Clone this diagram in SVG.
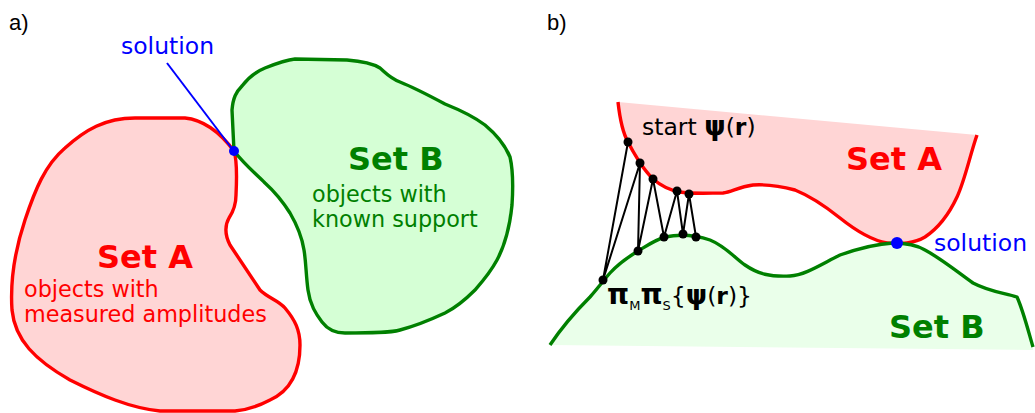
<svg xmlns="http://www.w3.org/2000/svg" width="1035" height="413" viewBox="0 0 1035 413">
  <style>
    text { font-family: "DejaVu Sans", "Liberation Sans", sans-serif; }
    .panel { font-family: "Liberation Sans", Arial, sans-serif; font-size: 22px; fill: #000; }
    .title { font-size: 32px; font-weight: bold; }
    .desc { font-size: 22.3px; }
    .red { fill: #ff0000; }
    .green { fill: #008000; }
    .blue { fill: #0000ff; }
    .edgeA { stroke: #ff0000; stroke-width: 3.4; stroke-linejoin: round; }
    .edgeB { stroke: #008000; stroke-width: 3.4; stroke-linejoin: round; }
    .open { fill: none; }
    .fillA { fill: #ffd5d5; }
    .fillB { fill: #d5ffd5; }
    .fillB2 { fill: #eaffea; }
    .step { stroke: #000; stroke-width: 2; fill: none; }
    .pt { fill: #000; }
    .sym { font-weight: bold; }
  </style>

  <!-- panel labels -->
  <text class="panel" x="9" y="30">a)</text>
  <text class="panel" x="547" y="30">b)</text>

  <!-- ===== panel a: two closed sets touching in one point ===== -->
  <g id="a-setA">
    <path class="fillA edgeA" d="M 234,151 C 237,160 237,175 236,195 C 236,205 233,212 229,218 C 225,225 225,235 230,245 C 240,260 250,275 260,290 C 268,298 278,300 285,308 C 295,320 300,330 300,345 C 300,370 292,390 270,400 C 255,408 245,410 235,411 L 160,411 C 130,408 100,395 70,380 C 35,360 15,340 12,310 C 10,280 15,250 25,220 C 35,190 45,165 65,148 C 85,130 105,118 135,118 L 185,118 C 205,120 222,135 234,151 Z"/>
    <text class="title red" x="97" y="268">Set A</text>
    <text class="desc red" x="24" y="297">objects with</text>
    <text class="desc red" x="24" y="322">measured amplitudes</text>
  </g>

  <g id="a-setB">
    <path class="fillB edgeB" d="M 234,151 L 232,110 C 233,98 236,92 242,86 C 248,78 255,72 265,68 C 275,64 285,60 295,59 L 347,60 C 360,61 372,63 380,68 C 387,74 390,78 400,82 C 415,88 430,96 445,104 C 460,110 473,116 485,125 C 497,135 505,145 510,157 C 513,170 513,190 512,205 C 510,225 505,245 497,260 C 490,273 482,282 475,290 C 465,300 455,308 445,313 C 430,320 415,326 400,330 C 390,333 370,333 345,333 C 335,333 328,330 322,322 C 316,314 310,305 308,290 C 306,275 306,262 304,250 C 302,237 297,225 290,213 C 283,202 275,192 265,183 C 255,173 245,165 234,151 Z"/>
    <text class="title green" x="348" y="170">Set B</text>
    <text class="desc green" x="312" y="202">objects with</text>
    <text class="desc green" x="312" y="227">known support</text>
  </g>

  <g id="a-solution">
    <line x1="167" y1="63" x2="233" y2="150" stroke="#0000ff" stroke-width="2"/>
    <circle cx="234" cy="151" r="5" fill="#0000ff"/>
    <text class="blue" x="121" y="54" font-size="23.5">solution</text>
  </g>

  <!-- ===== panel b: alternating projections between the two sets ===== -->
  <g id="b-setA">
    <path class="fillA" d="M 618,102 L 977,135 C 970,155 965,180 957,197 C 950,212 940,227 925,237 C 915,243 900,245 887,243 C 870,240 855,230 840,218 C 825,206 810,196 795,190 C 780,186 768,184 753,185 C 738,187 732,192 723,193 C 710,193 690,194 680,192 C 668,190 660,185 653,179 C 649,175 645,170 640,163 C 637,158 633,152 628,142 C 624,135 620,120 618,102 Z"/>
    <path class="edgeA open" d="M 618,102 C 620,120 624,135 628,142 C 633,152 637,158 640,163 C 645,170 649,175 653,179 C 660,185 668,190 680,192 C 690,194 710,193 723,193 C 732,192 738,187 753,185 C 768,184 780,186 795,190 C 810,196 825,206 840,218 C 855,230 870,240 887,243 C 900,245 915,243 925,237 C 940,227 950,212 957,197 C 965,180 970,155 977,135"/>
    <text class="title red" x="846" y="170">Set A</text>
  </g>

  <g id="b-setB">
    <path class="fillB2" d="M 550,345 C 560,330 572,315 590,297 C 598,288 603,281 610,273 C 620,262 630,256 638,251 C 648,245 655,240 665,237 C 680,234 695,235 710,240 C 725,246 735,258 745,265 C 758,274 770,277 790,276 C 805,275 820,265 840,255 C 860,248 875,244 893,243 C 905,243 915,244 925,250 C 940,258 955,270 973,283 C 990,292 1005,293 1017,297 C 1023,310 1028,330 1033,347 L 1033,350 Z"/>
    <path class="edgeB open" d="M 550,345 C 560,330 572,315 590,297 C 598,288 603,281 610,273 C 620,262 630,256 638,251 C 648,245 655,240 665,237 C 680,234 695,235 710,240 C 725,246 735,258 745,265 C 758,274 770,277 790,276 C 805,275 820,265 840,255 C 860,248 875,244 893,243 C 905,243 915,244 925,250 C 940,258 955,270 973,283 C 990,292 1005,293 1017,297 C 1023,310 1028,330 1033,347"/>
    <text class="title green" x="889" y="338">Set B</text>
  </g>

  <!-- projection steps -->
  <g id="b-connectors">
    <polyline class="step" points="628,142 603,280 640,163 638,251 653,179 664,237 677,191 683,234 689,194 696,237"/>
  </g>

  <g id="b-iterates">
    <circle class="pt" cx="628" cy="142" r="4.5"/>
    <circle class="pt" cx="640" cy="163" r="4.5"/>
    <circle class="pt" cx="653" cy="179" r="4.5"/>
    <circle class="pt" cx="677" cy="191" r="4.5"/>
    <circle class="pt" cx="689" cy="194" r="4.5"/>
    <circle class="pt" cx="603" cy="280" r="4.5"/>
    <circle class="pt" cx="638" cy="251" r="4.5"/>
    <circle class="pt" cx="664" cy="237" r="4.5"/>
    <circle class="pt" cx="683" cy="234" r="4.5"/>
    <circle class="pt" cx="696" cy="237" r="4.5"/>
  </g>

  <g id="b-start">
    <text x="642" y="135" font-size="23.5" fill="#000">start <tspan class="sym" font-size="27">ψ</tspan>(<tspan font-weight="bold">r</tspan>)</text>
  </g>

  <g id="b-projection">
    <text x="607" y="304" font-size="23.5" fill="#000"><tspan class="sym" font-size="28">π</tspan><tspan font-size="13" dy="6">M</tspan><tspan class="sym" font-size="28" dy="-6">π</tspan><tspan font-size="13" dy="6">S</tspan><tspan dy="-6">{</tspan><tspan class="sym" font-size="27">ψ</tspan>(<tspan font-weight="bold">r</tspan>)}</text>
  </g>

  <g id="b-solution">
    <circle cx="897" cy="243" r="6" fill="#0000ff"/>
    <text class="blue" x="934" y="251" font-size="23.5">solution</text>
  </g>
</svg>
